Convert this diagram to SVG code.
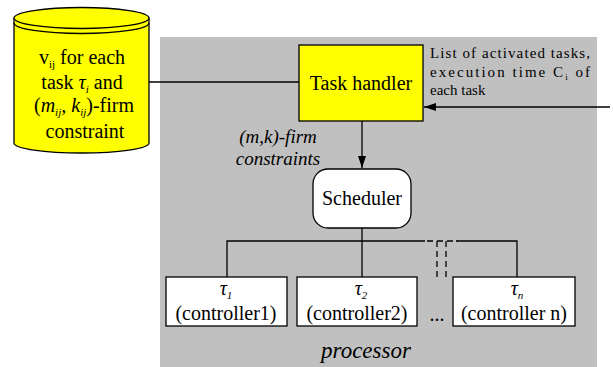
<svg xmlns="http://www.w3.org/2000/svg" width="613" height="367" viewBox="0 0 613 367" font-family="Liberation Serif, Times New Roman, DejaVu Serif, serif">
<defs>
<marker id="arr" markerWidth="13" markerHeight="9" refX="12" refY="4.5" orient="auto" markerUnits="userSpaceOnUse">
<path d="M0,0.5 L12,4.5 L0,8.5 z" fill="#000"/>
</marker>
<style>
text{font-family:'Liberation Serif','Times New Roman','DejaVu Serif',serif;fill:#000}
.t20{font-size:20px}
.t15{font-size:15px}
.it{font-style:italic}
.sub{font-size:11px}
.box{stroke:#000;stroke-width:1.3}
.ln{stroke:#000;stroke-width:1.3;fill:none}
.dash{stroke:#000;stroke-width:1.3;fill:none;stroke-dasharray:6,4}
</style>
</defs>
<rect x="0" y="0" width="613" height="367" fill="#fff"/>
<rect id="processor-area" x="160" y="37" width="437" height="330" fill="#C0C0C0"/>
<text class="it" x="366" y="358" text-anchor="middle" style="font-size:23px">processor</text>

<g id="connectors">
<line class="ln" x1="149" y1="82" x2="299" y2="82"/>
<line class="ln" x1="610" y1="107" x2="424" y2="107" marker-end="url(#arr)"/>
<line class="ln" x1="362" y1="121" x2="362" y2="168" marker-end="url(#arr)"/>
<line class="ln" x1="362" y1="228" x2="362" y2="277"/>
<polyline class="ln" points="227,277 227,241 425,241"/>
<line class="dash" x1="427" y1="241" x2="458" y2="241"/>
<polyline class="ln" points="456,241 517,241 517,277"/>
<line class="dash" x1="437" y1="241" x2="437" y2="277"/>
<line class="dash" x1="446" y1="241" x2="446" y2="277"/>
</g>

<g id="database">
<path d="M14,18 V143 A67.5,10 0 0 0 149,143 V18" fill="#FFFF00" stroke="#000" stroke-width="1.3"/>
<ellipse cx="81.5" cy="18" rx="67.5" ry="10.5" fill="#FFFF00" stroke="#000" stroke-width="1.3"/>
<path d="M14,23 A67.5,10.5 0 0 0 149,23" fill="none" stroke="#000" stroke-width="1.3"/>
<text class="t20" x="82" y="64" text-anchor="middle">v<tspan class="sub" dy="4">ij</tspan><tspan dy="-4"> for each</tspan></text>
<text class="t20" x="82" y="89" text-anchor="middle">task <tspan class="it">τ</tspan><tspan class="sub it" dy="4">i</tspan><tspan dy="-4">  and</tspan></text>
<text class="t20" x="84" y="112" text-anchor="middle">(<tspan class="it">m</tspan><tspan class="sub it" dy="4">ij</tspan><tspan class="it" dy="-4">, k</tspan><tspan class="sub it" dy="4">ij</tspan><tspan dy="-4">)-firm</tspan></text>
<text class="t20" x="85" y="138" text-anchor="middle">constraint</text>
</g>

<g id="task-handler">
<rect class="box" x="299" y="45" width="124" height="76" fill="#FFFF00"/>
<text class="t20" x="361" y="90" text-anchor="middle">Task handler</text>
</g>

<g id="input-label">
<text class="t15" x="430" y="58" textLength="160" lengthAdjust="spacing">List of activated tasks,</text>
<text class="t15" x="430" y="77" textLength="160" lengthAdjust="spacing">execution time C<tspan style="font-size:9px" dy="3">i</tspan><tspan dy="-3"> of</tspan></text>
<text class="t15" x="430" y="95">each task</text>
</g>

<g id="constraint-label">
<text class="t20 it" x="278" y="143" text-anchor="middle" style="font-size:19px">(m,k)-firm</text>
<text class="t20 it" x="278" y="165" text-anchor="middle" style="font-size:19px">constraints</text>
</g>

<g id="scheduler">
<rect class="box" x="313" y="169" width="98" height="59" rx="15" ry="15" fill="#fff"/>
<text class="t20" x="362" y="205" text-anchor="middle">Scheduler</text>
</g>

<g id="controller1">
<rect class="box" x="166" y="277" width="121" height="49" fill="#fff"/>
<text class="t20" x="226" y="295" text-anchor="middle"><tspan class="it">τ</tspan><tspan class="sub it" dy="4">1</tspan></text>
<text class="t20" x="226" y="320" text-anchor="middle">(controller1)</text>
</g>

<g id="controller2">
<rect class="box" x="297" y="277" width="120" height="49" fill="#fff"/>
<text class="t20" x="361" y="295" text-anchor="middle"><tspan class="it">τ</tspan><tspan class="sub it" dy="4">2</tspan></text>
<text class="t20" x="357" y="320" text-anchor="middle">(controller2)</text>
</g>

<text class="t20" x="437" y="321" text-anchor="middle">...</text>

<g id="controllern">
<rect class="box" x="453" y="277" width="122" height="49" fill="#fff"/>
<text class="t20" x="517" y="295" text-anchor="middle"><tspan class="it">τ</tspan><tspan class="sub it" dy="4">n</tspan></text>
<text class="t20" x="514" y="320" text-anchor="middle">(controller n)</text>
</g>
</svg>
